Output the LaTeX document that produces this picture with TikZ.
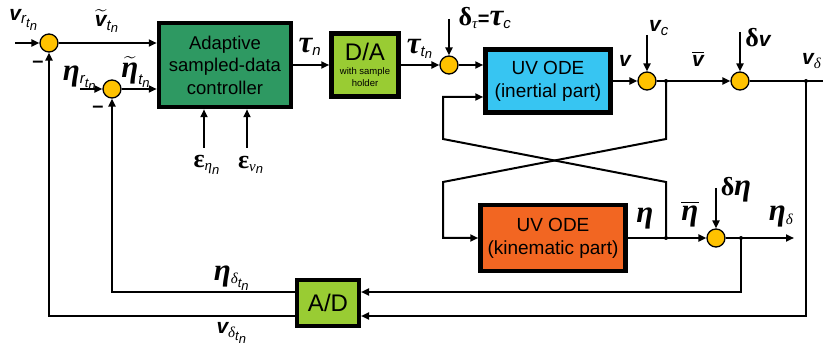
\documentclass[tikz,border=0pt]{standalone}
\usepackage{fontspec}
\usepackage{amsmath}
\setmainfont{Liberation Sans}
\newfontfamily\serifG{Liberation Serif}
\usetikzlibrary{arrows.meta}
\DeclareMathSizes{20}{20}{15}{13}
\definecolor{ctrlgreen}{RGB}{46,153,98}
\definecolor{dagreen}{RGB}{153,204,51}
\definecolor{inertblue}{RGB}{55,197,242}
\definecolor{kinorange}{RGB}{242,102,34}
\definecolor{sumyellow}{RGB}{255,194,0}
\newcommand{\vvb}{{\fontsize{21}{21}\selectfont\bfseries\itshape v}}
\newcommand{\etb}{{\serifG\fontsize{31}{31}\selectfont\bfseries\itshape η}}
\newcommand{\tab}{{\serifG\fontsize{31}{31}\selectfont\bfseries\itshape τ}}
\newcommand{\deb}{{\serifG\fontsize{26}{26}\selectfont\bfseries δ}}
\newcommand{\epb}{{\serifG\fontsize{26}{26}\selectfont\bfseries ε}}
\newcommand{\si}[1]{\text{\normalfont\itshape #1}}
\newcommand{\sg}[1]{\text{\serifG\itshape #1}}
\begin{document}
\begin{tikzpicture}[x=1pt,y=-1pt,
  wire/.style={line width=2pt,black},
  arr/.style={wire,-{Triangle[length=8pt,width=7pt]}},
  sum/.style={circle,draw=black,line width=1.3pt,fill=sumyellow,minimum size=18pt,inner sep=0pt},
  lbl/.style={inner sep=0pt,font=\fontsize{20}{24}\selectfont},
  dot/.style={circle,fill=black,inner sep=0pt,minimum size=4pt}]
\useasboundingbox (0,0) rectangle (823,350);
% blocks
\node[draw=black,line width=4.5pt,align=center,inner sep=0pt,font=\fontsize{18.5}{22.5}\selectfont,
      fill=ctrlgreen,minimum width=132pt,minimum height=84pt] (ctrl) at (225,65) {Adaptive\\sampled-data\\controller};
\node[draw=black,line width=4.5pt,align=center,inner sep=0pt,fill=dagreen,
      minimum width=67pt,minimum height=63pt] (DA) at (365,65)
      {{\fontsize{24}{24}\selectfont D/A}\\[2pt]\fontsize{9.5}{11}\selectfont with sample\\\fontsize{9.5}{11}\selectfont holder};
\node[draw=black,line width=4.5pt,align=center,inner sep=0pt,font=\fontsize{19}{23}\selectfont,
      fill=inertblue,minimum width=125pt,minimum height=63pt] (inert) at (548,81) {UV ODE\\(inertial part)};
\node[draw=black,line width=4.5pt,align=center,inner sep=0pt,font=\fontsize{19}{23}\selectfont,
      fill=kinorange,minimum width=145pt,minimum height=66pt] (kin) at (553,238) {UV ODE\\(kinematic part)};
\node[draw=black,line width=4pt,align=center,inner sep=0pt,font=\fontsize{24}{24}\selectfont,
      fill=dagreen,minimum width=62pt,minimum height=46pt] (AD) at (328,303) {A/D};
% summing junctions
\node[sum] (s1) at (49,43) {};
\node[sum] (s2) at (112,89) {};
\node[sum] (s3) at (449,65) {};
\node[sum] (s4) at (647,81) {};
\node[sum] (s5) at (740,81) {};
\node[sum] (s6) at (716,238) {};
% coordinates
\coordinate (in1) at (15,43);
\coordinate (in2) at (80,89);
\coordinate (ep1) at (204,148);
\coordinate (ep2) at (247,148);
\coordinate (dt) at (449,19);
\coordinate (vc) at (647,35);
\coordinate (dv) at (740,32);
\coordinate (dn) at (716,188);
\coordinate (vend) at (823,81);
\coordinate (nend) at (794,238);
\coordinate (c1) at (666,139);
\coordinate (c2) at (443,182);
\coordinate (c3) at (666,182);
\coordinate (c4) at (443,139);
\coordinate (c5) at (443,97);
\coordinate (c6) at (741,292);
\coordinate (c7) at (806,316);
\coordinate (c8) at (112,292);
\coordinate (c9) at (49,316);
\node[dot] (jv1) at (666,81) {};
\node[dot] (jv2) at (806,81) {};
\node[dot] (je1) at (666,238) {};
\node[dot] (je2) at (741,238) {};
% connectors
\draw[arr] (in1) -- (s1);
\draw[arr] (in2) -- (s2);
\draw[arr] (s1) -- (s1 -| ctrl.west);
\draw[arr] (s2) -- (s2 -| ctrl.west);
\draw[arr] (ep1) -- (ep1 |- ctrl.south);
\draw[arr] (ep2) -- (ep2 |- ctrl.south);
\draw[arr] (ctrl) -- (DA);
\draw[arr] (DA) -- (s3);
\draw[arr] (dt) -- (s3);
\draw[arr] (s3) -- (s3 -| inert.west);
\draw[arr] (inert) -- (s4);
\draw[arr] (vc) -- (s4);
\draw[arr] (s4) -- (s5);
\draw[arr] (dv) -- (s5);
\draw[wire] (s5) -- (vend);
\draw[arr] (jv1.center) -- (c1) -- (c2) -- (c2 |- kin.west) -- (kin.west);
\draw[arr] (kin) -- (s6);
\draw[arr] (je1.center) -- (c3) -- (c4) -- (c5) -- (c5 -| inert.west);
\draw[arr] (dn) -- (s6);
\draw[arr] (s6) -- (nend);
\draw[arr] (je2.center) -- (c6) -- (c6 -| AD.east);
\draw[arr] (jv2.center) -- (c7) -- (c7 -| AD.east);
\draw[arr] (c8 -| AD.west) -- (c8) -- (s2);
\draw[arr] (c9 -| AD.west) -- (c9) -- (s1);
% labels
\node[lbl] (l1) at (24,20) {\vvb$_{\si{r}_{\si{t}_{\si{n}}}}$};
\node[lbl] (l2) at (107,21) {$\widetilde{\hbox{\vvb}}_{\si{t}_{\si{n}}}$};
\node[lbl] (l3) at (38,64) {\bfseries –};
\node[lbl] (l4) at (98,109) {\bfseries –};
\node[lbl] (l5) at (80,78) {\etb$_{\si{r}_{\si{t}_{\si{n}}}}$};
\node[lbl] (l6) at (136,72) {$\widetilde{\hbox{\etb}}_{\si{t}_{\si{n}}}$};
\node[lbl] (l7) at (207,165) {\epb$_{\sg{η}_{\si{n}}}$};
\node[lbl] (l8) at (251,165) {\epb$_{\sg{ν}_{\si{n}}}$};
\node[lbl] (l9) at (310,47) {\tab$_{\si{n}}$};
\node[lbl] (l10) at (420,49) {\tab$_{\si{t}_{\si{n}}}$};
\node[lbl] (l11) at (485,18) {\deb$_{\sg{τ}}${\bfseries=}\tab$_{\si{c}}$};
\node[lbl] (l12) at (625,61) {\vvb};
\node[lbl] (l13) at (659,28) {\vvb$_{\si{c}}$};
\node[lbl] (l14) at (698,59) {$\overline{\hbox{\vvb}}$};
\node[lbl] (l15) at (758,38) {\deb\vvb};
\node[lbl,anchor=west] (l16) at (802,61) {\vvb$_{\sg{δ}}$};
\node[lbl] (l17) at (645,219) {\etb};
\node[lbl] (l18) at (690,214) {$\overline{\hbox{\etb}}$};
\node[lbl] (l19) at (736,190) {\deb\etb};
\node[lbl] (l20) at (781,217) {\etb$_{\sg{δ}}$};
\node[lbl] (l21) at (232,278) {\etb$_{\sg{δ}_{\si{t}_{\si{n}}}}$};
\node[lbl] (l22) at (232,333) {\vvb$_{\sg{δ}_{\si{t}_{\si{n}}}}$};
\end{tikzpicture}
\end{document}
